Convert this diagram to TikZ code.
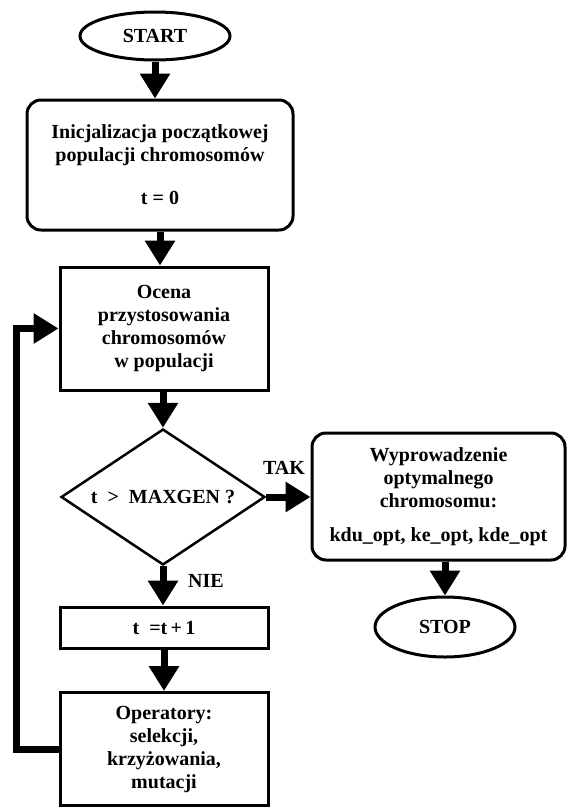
\documentclass[tikz,border=0pt]{standalone}
\usepackage{fontspec}
\setmainfont{Liberation Serif}
\usetikzlibrary{shapes.geometric,arrows.meta}
\begin{document}
\begin{tikzpicture}[x=1pt,y=-1pt,
  font=\bfseries\fontsize{20}{23}\selectfont,
  box/.style={draw, line width=3pt, align=center, inner sep=0pt},
  rbox/.style={box, rounded corners=14pt},
  term/.style={draw, ellipse, line width=3pt, inner sep=0pt},
  flow/.style={line width=7pt, -{Triangle[length=25pt,width=29pt]}},
  lbl/.style={inner sep=0pt}]
\useasboundingbox (0,0) rectangle (566,811);

% main column
\node[term, minimum width=150pt, minimum height=48pt] (start) at (155,36) {START};
\node[rbox, minimum width=266pt, minimum height=130pt] (init) at (160,165)
  {Inicjalizacja początkowej\\populacji chromosomów\\[20pt]t = 0};
\node[box, minimum width=208pt, minimum height=123pt] (ocena) at (164,328.5)
  {Ocena\\przystosowania\\chromosomów\\w populacji};
\node[draw, diamond, shape aspect=1.5, line width=2.5pt, inner sep=0pt,
  minimum width=204pt, minimum height=136pt] (dec) at (163,497) {t \ > \ MAXGEN ?};
\node[box, minimum width=208pt, minimum height=41pt] (tt) at (164,627.5) {t \ =t\,+\,1};
\node[box, minimum width=208pt, minimum height=113pt] (op) at (164,749)
  {Operatory:\\selekcji,\\krzyżowania,\\mutacji};

% exit branch
\node[rbox, minimum width=253pt, minimum height=127pt] (out) at (438.5,496.5)
  {Wyprowadzenie\\optymalnego\\chromosomu:\\[11pt]kdu\_opt, ke\_opt, kde\_opt};
\node[term, minimum width=140pt, minimum height=60pt] (stop) at (445,627) {STOP};

% branch labels
\node[lbl] (tak) at (284,468) {TAK};
\node[lbl] (nie) at (206,581) {NIE};

% connectors
\coordinate (loopx) at (16.5,0);
\draw[flow] (start.south) -- (start.south |- init.north);
\draw[flow] (init.south) -- (init.south |- ocena.north);
\draw[flow] (dec.north |- ocena.south) -- (dec.north);
\draw[flow] (dec.south) -- (dec.south |- tt.north);
\draw[flow] (tt.south) -- (op.north);
\draw[flow] (dec.east) -- (dec.east -| out.west);
\draw[flow] (stop.north |- out.south) -- (stop.north);
\draw[flow] (op.west) -- (op.west -| loopx) |- (ocena.west);
\end{tikzpicture}
\end{document}
